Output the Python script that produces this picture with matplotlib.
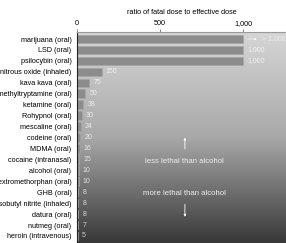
import numpy as np
import matplotlib.pyplot as plt
from matplotlib.colors import LinearSegmentedColormap

drugs = [
    "marijuana (oral)", "LSD (oral)", "psilocybin (oral)", "nitrous oxide (inhaled)",
    "kava kava (oral)", "dimethyltryptamine (oral)", "ketamine (oral)", "Rohypnol (oral)",
    "mescaline (oral)", "codeine (oral)", "MDMA (oral)", "cocaine (intranasal)",
    "alcohol (oral)", "dextromethorphan (oral)", "GHB (oral)", "isobutyl nitrite (inhaled)",
    "datura (oral)", "nutmeg (oral)", "heroin (intravenous)",
]
ratios = [1000, 1000, 1000, 150, 75, 50, 38, 30, 24, 20, 16, 15, 10, 10, 8, 8, 8, 7, 5]
value_labels = ["", "1,000", "1,000", "150", "75", "50", "38", "30", "24", "20", "16",
                "15", "10", "10", "8", "8", "8", "7", "5"]
tick_values = [0, 500, 1000]
tick_labels = ["0", "500", "1,000"]

plt.rcParams["font.family"] = ["Liberation Sans", "DejaVu Sans"]

fig = plt.figure(figsize=(2.86, 2.43), dpi=100, facecolor="white")
ax = fig.add_axes([77 / 286, 0.0, 209 / 286, 1 - 32 / 243])

xmax = 209 / 0.166
n = len(drugs)
ylo, yhi = n - 1 + 0.64, -0.64

# background gradient, light at top to dark at bottom
grad = np.linspace(0, 1, 256).reshape(-1, 1)
cmap = LinearSegmentedColormap.from_list("bg", ["#d6d6d6", "#a8a8a8", "#383838"])
ax.imshow(grad, aspect="auto", cmap=cmap, extent=[0, xmax, ylo, yhi], zorder=0)

y = np.arange(n)
ax.barh(y, ratios, height=0.78, color="#8c8c8c", edgecolor="#a6a6a6", linewidth=0.5, zorder=2)

for i, (v, lab) in enumerate(zip(ratios, value_labels)):
    if lab:
        ax.text(v + 24, i, lab, va="center", ha="left", fontsize=5.0,
                color="white", alpha=0.75, zorder=3)

ax.annotate("", xy=(1100, 0), xytext=(1012, 0),
            arrowprops=dict(arrowstyle="-|>", color="white", lw=0.5, alpha=0.7,
                            mutation_scale=3), zorder=3)
ax.text(1115, 0, "> 1,000", va="center", ha="left", fontsize=5.0, color="white",
        alpha=0.6, zorder=3)

ax.text(650, 11.15, "less lethal than alcohol", ha="center", va="center",
        fontsize=5.6, color="white", alpha=0.85)
ax.annotate("", xy=(650, 8.75), xytext=(650, 10.3),
            arrowprops=dict(arrowstyle="-|>", color="white", lw=0.6, mutation_scale=3))
ax.text(650, 14.1, "more lethal than alcohol", ha="center", va="center",
        fontsize=5.6, color="white", alpha=0.9)
ax.annotate("", xy=(650, 16.5), xytext=(650, 14.85),
            arrowprops=dict(arrowstyle="-|>", color="white", lw=0.6, mutation_scale=3))

ax.set_xlim(0, xmax)
ax.set_ylim(ylo, yhi)
ax.set_yticks(y)
ax.set_yticklabels(drugs, fontsize=5.2)
ax.tick_params(axis="y", length=0, pad=4)
ax.xaxis.tick_top()
ax.xaxis.set_label_position("top")
ax.set_xticks(tick_values)
ax.set_xticklabels(tick_labels, fontsize=5.2)
ax.tick_params(axis="x", length=2, width=0.5, pad=1.5, color="#555555")
ax.set_xlabel("ratio of fatal dose to effective dose", fontsize=5.2, labelpad=4.5)
for side in ["right", "bottom"]:
    ax.spines[side].set_visible(False)
ax.spines["top"].set_color("#9a9a9a")
ax.spines["top"].set_linewidth(0.8)
ax.spines["left"].set_color("#222222")
ax.spines["left"].set_linewidth(0.8)

fig.savefig("out.png", dpi=100, facecolor="white")
